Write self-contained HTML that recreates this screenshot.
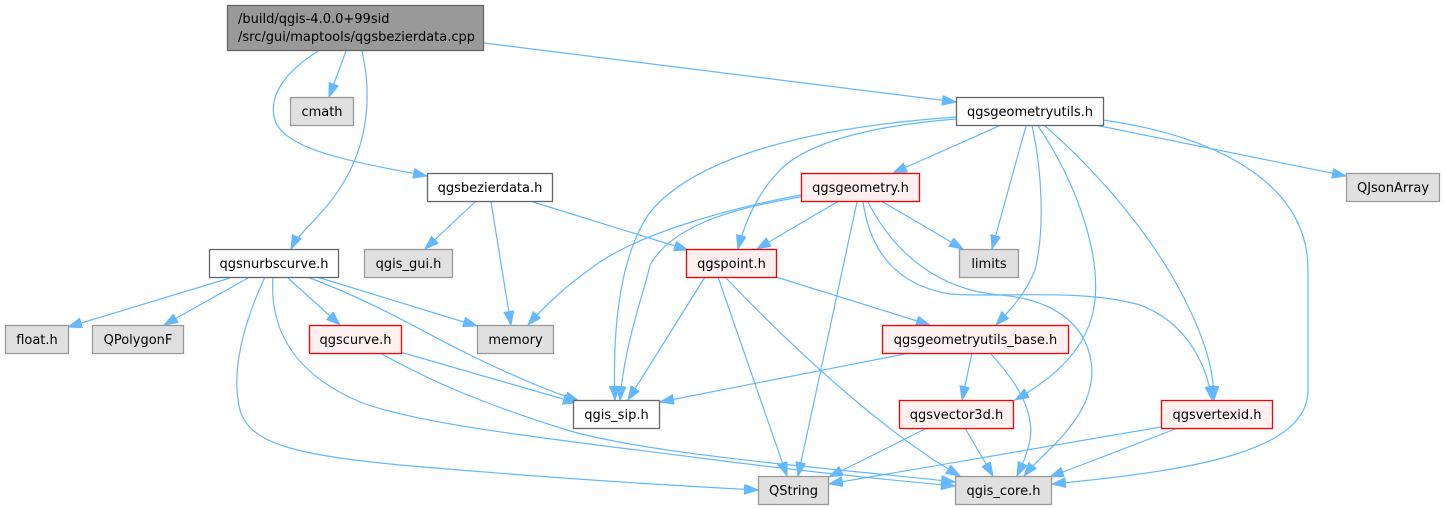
<!DOCTYPE html>
<html>
<head>
<meta charset="utf-8">
<style>
  html, body { margin: 0; padding: 0; background: #ffffff; }
  svg { display: block; }
  text { font-family: "DejaVu Sans", "Liberation Sans", sans-serif; font-size: 13px; fill: #000; }
</style>
</head>
<body>
<svg width="1445" height="509" viewBox="0 0 1445 509" xmlns="http://www.w3.org/2000/svg">
  <defs>
    <marker id="a" markerWidth="15" markerHeight="11" refX="14" refY="5" orient="auto" markerUnits="userSpaceOnUse">
      <path d="M0,0 L14,5 L0,10 z" fill="#63b8ff" stroke="#63b8ff" stroke-width="1"/>
    </marker>
  </defs>

  <g fill="none" stroke="#63b8ff" stroke-width="1.2" marker-end="url(#a)">
    <!-- root edges -->
    <path d="M346,51 L329,97"/>
    <path d="M318,51 C285,72 266,97 276,123 C290,152 360,163 427,176"/>
    <path d="M362,51 C372,95 368,140 345,180 C325,215 300,230 291,249"/>
    <path d="M484,43 L956,102"/>

    <!-- qgsgeometryutils.h edges -->
    <path d="M999,126 L893,173"/>
    <path d="M956,119 C880,125 810,140 780,170 C760,190 745,220 738,249"/>
    <path d="M956,117 C800,128 690,160 648,215 C622,255 612,320 615,400"/>
    <path d="M1026,126 L992,249"/>
    <path d="M1032,126 C1042,170 1045,230 1035,270 C1025,295 1010,310 996,325"/>
    <path d="M1038,126 C1075,180 1100,250 1095,300 C1090,350 1050,380 1015,400"/>
    <path d="M1045,126 C1090,165 1150,230 1185,300 C1205,340 1214,370 1214,400"/>
    <path d="M1095,125 L1346,176"/>
    <path d="M1103,120 C1210,135 1308,180 1308,270 L1308,390 C1308,450 1200,470 1052,484"/>

    <!-- qgsbezierdata.h edges -->
    <path d="M475,202 L425,249"/>
    <path d="M491,202 L511,325"/>
    <path d="M533,202 L688,250"/>

    <!-- qgsnurbscurve.h edges -->
    <path d="M230,278 L68,327"/>
    <path d="M248,278 L164,325"/>
    <path d="M288,278 L340,325"/>
    <path d="M317,277 L477,326"/>
    <path d="M307,277 C370,300 420,330 460,350 C500,370 540,388 579,401"/>
    <path d="M273,277 C270,320 285,370 360,402 C420,425 560,440 700,458 C800,471 900,481 955,486"/>
    <path d="M265,277 C245,320 230,370 240,410 C250,445 300,455 400,465 C550,478 680,486 758,490"/>

    <!-- qgscurve.h edges -->
    <path d="M400,352 L577,403"/>
    <path d="M380,353 C420,375 470,400 567,430 C650,455 850,470 955,482"/>

    <!-- qgspoint.h edges -->
    <path d="M705,277 L628,400"/>
    <path d="M718,277 L787,476"/>
    <path d="M725,277 C790,345 880,430 960,476"/>
    <path d="M776,277 L930,325"/>

    <!-- qgsgeometry.h edges -->
    <path d="M837,202 L757,249"/>
    <path d="M801,195 C720,210 640,235 600,262 C570,283 550,300 528,325"/>
    <path d="M801,197 C720,210 670,230 650,265 C645,290 625,340 620,400"/>
    <path d="M857,202 L798,476"/>
    <path d="M883,202 L963,249"/>
    <path d="M863,202 C870,250 895,285 950,294 C1000,298 1080,288 1140,305 C1180,320 1205,355 1212,400"/>
    <path d="M868,202 C895,255 940,290 1000,295 C1060,300 1090,330 1092,370 C1092,420 1045,450 1024,476"/>

    <!-- qgsgeometryutils_base.h edges -->
    <path d="M910,353 L660,402"/>
    <path d="M972,353 L962,400"/>
    <path d="M990,353 C1015,380 1035,410 1030,440 C1027,455 1022,465 1017,476"/>

    <!-- qgsvector3d.h edges -->
    <path d="M965,428 L993,476"/>
    <path d="M927,428 L829,477"/>

    <!-- qgsvertexid.h edges -->
    <path d="M1161,427 L829,484"/>
    <path d="M1178,428 L1050,477"/>
  </g>

  <!-- Nodes -->
  <g stroke-width="1.3">
    <!-- root -->
    <rect x="227.5" y="5.5" width="256" height="45" fill="#999999" stroke="#666666"/>
    <text x="238" y="23">/build/qgis-4.0.0+99sid</text>
    <text x="238" y="41">/src/gui/maptools/qgsbezierdata.cpp</text>

    <!-- white nodes -->
    <rect x="956.5" y="97.5" width="147" height="28" fill="#ffffff" stroke="#666666"/>
    <rect x="427.5" y="173.5" width="125" height="28" fill="#ffffff" stroke="#666666"/>
    <rect x="209.5" y="249.5" width="129" height="28" fill="#ffffff" stroke="#666666"/>
    <rect x="573.5" y="400.5" width="86" height="28" fill="#ffffff" stroke="#666666"/>

    <!-- grey nodes -->
    <rect x="290.5" y="97.5" width="63" height="28" fill="#e0e0e0" stroke="#999999"/>
    <rect x="1346.5" y="173.5" width="93" height="28" fill="#e0e0e0" stroke="#999999"/>
    <rect x="364.5" y="249.5" width="88" height="28" fill="#e0e0e0" stroke="#999999"/>
    <rect x="959.5" y="249.5" width="59" height="28" fill="#e0e0e0" stroke="#999999"/>
    <rect x="5.5" y="325.5" width="63" height="28" fill="#e0e0e0" stroke="#999999"/>
    <rect x="92.5" y="325.5" width="91" height="28" fill="#e0e0e0" stroke="#999999"/>
    <rect x="477.5" y="325.5" width="76" height="28" fill="#e0e0e0" stroke="#999999"/>
    <rect x="758.5" y="476.5" width="70" height="28" fill="#e0e0e0" stroke="#999999"/>
    <rect x="955.5" y="476.5" width="96" height="28" fill="#e0e0e0" stroke="#999999"/>

    <!-- red nodes -->
    <rect x="801.5" y="173.5" width="118" height="28" fill="#fff0f0" stroke="#ff0000"/>
    <rect x="686.5" y="249.5" width="90" height="28" fill="#fff0f0" stroke="#ff0000"/>
    <rect x="309.5" y="325.5" width="92" height="28" fill="#fff0f0" stroke="#ff0000"/>
    <rect x="882.5" y="325.5" width="186" height="28" fill="#fff0f0" stroke="#ff0000"/>
    <rect x="899.5" y="400.5" width="114" height="28" fill="#fff0f0" stroke="#ff0000"/>
    <rect x="1161.5" y="400.5" width="111" height="28" fill="#fff0f0" stroke="#ff0000"/>
  </g>

  <g text-anchor="middle">
    <text x="322" y="116">cmath</text>
    <text x="1030" y="116">qgsgeometryutils.h</text>
    <text x="490" y="192">qgsbezierdata.h</text>
    <text x="860.5" y="192">qgsgeometry.h</text>
    <text x="1393" y="192">QJsonArray</text>
    <text x="274" y="268">qgsnurbscurve.h</text>
    <text x="408.5" y="268">qgis_gui.h</text>
    <text x="731.5" y="268">qgspoint.h</text>
    <text x="989" y="268">limits</text>
    <text x="37" y="344">float.h</text>
    <text x="138" y="344">QPolygonF</text>
    <text x="355.5" y="344">qgscurve.h</text>
    <text x="515.5" y="344">memory</text>
    <text x="975.5" y="344">qgsgeometryutils_base.h</text>
    <text x="616.5" y="419">qgis_sip.h</text>
    <text x="956.5" y="419">qgsvector3d.h</text>
    <text x="1217" y="419">qgsvertexid.h</text>
    <text x="793.5" y="495">QString</text>
    <text x="1003.5" y="495">qgis_core.h</text>
  </g>
</svg>
</body>
</html>
